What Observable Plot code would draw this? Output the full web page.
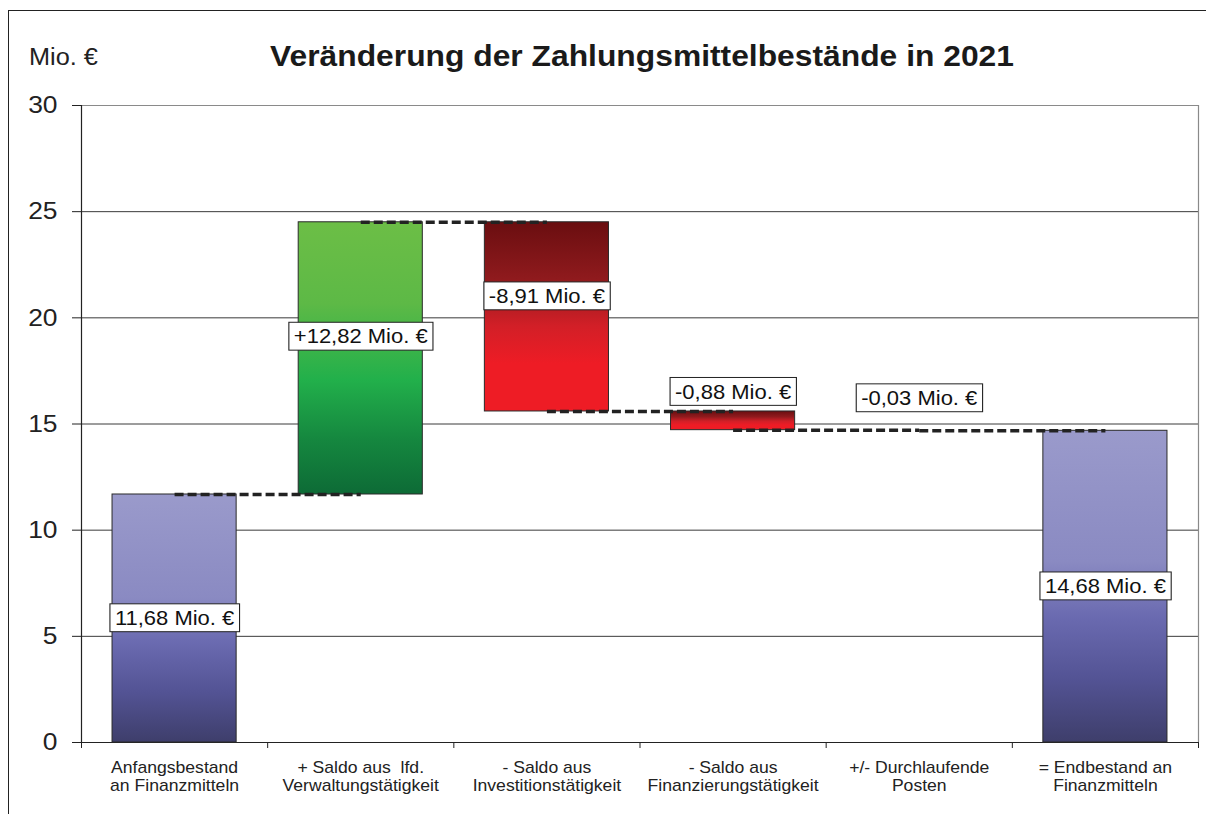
<!DOCTYPE html>
<html>
<head>
<meta charset="utf-8">
<script src="https://cdn.jsdelivr.net/npm/d3@7"></script>
<script src="https://cdn.jsdelivr.net/npm/@observablehq/plot@0.6"></script>
<style>
  html, body { margin: 0; padding: 0; background: #fff; overflow: hidden; }
  #wrap { position: relative; width: 1206px; height: 814px; overflow: hidden; font-family: "Liberation Sans", Arial, sans-serif; color: #222; }
  #frame { position: absolute; left: 8px; top: 10px; width: 1220px; height: 900px; border: 1.5px solid #222; box-sizing: border-box; }
  #unit { position: absolute; left: 29px; top: 42px; font-size: 23px; line-height: 30px; white-space: nowrap; transform-origin: left center; transform: scaleX(1.1); }
  #title { position: absolute; left: 642px; top: 41px; transform: translateX(-50%) scaleX(1.06); font-size: 30px; font-weight: bold; line-height: 30px; white-space: nowrap; color: #1a1a1a; }
  #chart { position: absolute; left: 0; top: 0; }
</style>
</head>
<body>
<div id="wrap">
  <div id="frame"></div>
  <div id="unit">Mio. €</div>
  <div id="title">Veränderung der Zahlungsmittelbestände in 2021</div>
  <div id="chart"></div>
</div>
<script>
// ---- data ----
const categories = [
  "Anfangsbestand\nan Finanzmitteln",
  "+ Saldo aus  lfd.\nVerwaltungstätigkeit",
  "- Saldo aus\nInvestitionstätigkeit",
  "- Saldo aus\nFinanzierungstätigkeit",
  "+/- Durchlaufende\nPosten",
  "= Endbestand an\nFinanzmitteln"
];
const changes = [11.68, 12.82, -8.91, -0.88, -0.03, 14.68];
const kinds = ["total", "up", "down", "down", "down", "total"];
const valueLabels = ["11,68 Mio. €", "+12,82 Mio. €", "-8,91 Mio. €", "-0,88 Mio. €", "-0,03 Mio. €", "14,68 Mio. €"];
const labelLevels = [5.84, 19.1, 21.0, 16.5, 16.2, 7.34];
const yTicks = [0, 5, 10, 15, 20, 25, 30];

// ---- derived table ----
let running = 0;
const rows = categories.map((c, i) => {
  let lo, hi;
  if (kinds[i] === "total") {
    lo = 0; hi = changes[i]; running = changes[i];
  } else {
    const start = running;
    running = start + changes[i];
    lo = Math.min(start, running); hi = Math.max(start, running);
  }
  return { i, category: c, lo, hi, level: running, kind: kinds[i], label: valueLabels[i], labelY: labelLevels[i] };
});
const connectors = rows.slice(0, -1).map(r => ({ from: r.i + 0.5, to: r.i + 1.5, level: r.level }));
const slots = d3.range(categories.length + 1);

const barOpts = {
  x1: d => d.i + 1 / 6,
  x2: d => d.i + 5 / 6,
  y1: "lo",
  y2: "hi",
  stroke: "#2a2a2a",
  strokeWidth: 1
};

const plot = Plot.plot({
  width: 1206,
  height: 814,
  marginLeft: 81,
  marginRight: 8,
  marginTop: 105,
  marginBottom: 72,
  x: { domain: [0, categories.length], axis: null },
  y: { domain: [0, 30], axis: null },
  style: { fontFamily: "'Liberation Sans', Arial, sans-serif", background: "transparent", color: "#222" },
  marks: [
    Plot.ruleY(yTicks.filter(t => t > 0 && t < 30), { stroke: "#3a3a3a", strokeWidth: 1, strokeOpacity: 1 }),
    Plot.ruleY([30], { stroke: "#8a8a8a", strokeWidth: 1.2 }),
    Plot.ruleX([categories.length], { stroke: "#8a8a8a", strokeWidth: 1.2 }),
    Plot.axisY({ ticks: yTicks, tickSize: 9, tickPadding: 15, fontSize: 24, tickFormat: d => String(d), color: "#222" }),
    Plot.axisX({ ticks: slots, tickSize: 6, tickFormat: () => "", color: "#222" }),
    Plot.ruleX([0], { stroke: "#222", strokeWidth: 1.2 }),
    Plot.ruleY([0], { stroke: "#222", strokeWidth: 1.2 }),
    Plot.rectY(rows.filter(d => d.kind === "total"), { ...barOpts, fill: "url(#g-total)" }),
    Plot.rectY(rows.filter(d => d.kind === "up"), { ...barOpts, fill: "url(#g-up)" }),
    Plot.rectY(rows.filter(d => d.kind === "down" && d.hi - d.lo > 0.1), { ...barOpts, fill: "url(#g-down)" }),
    Plot.link(connectors, { x1: "from", x2: "to", y1: "level", y2: "level", stroke: "#222", strokeWidth: 3.5, strokeDasharray: "9,4" }),
    Plot.text(rows, {
      x: d => d.i + 0.5, y: 0, text: "category", dy: 17, lineAnchor: "top",
      fontSize: 16, lineHeight: 1.15, fill: "#222"
    }),
    Plot.text(rows, {
      x: d => d.i + 0.5, y: "labelY", text: "label", fontSize: 20, fill: "#111"
    })
  ]
});

document.getElementById("chart").appendChild(plot);

// gradients
const svg = d3.select(plot);
const defs = svg.insert("defs", ":first-child");
function grad(id, stops) {
  const g = defs.append("linearGradient").attr("id", id).attr("x1", 0).attr("y1", 0).attr("x2", 0).attr("y2", 1);
  stops.forEach(([o, c]) => g.append("stop").attr("offset", o).attr("stop-color", c));
}
grad("g-total", [[0, "#9A9ACB"], [0.42, "#8A8AC2"], [0.6, "#6A6AB0"], [0.8, "#535394"], [1, "#3E3E6B"]]);
grad("g-up", [[0, "#6CBE46"], [0.3, "#5DB946"], [0.58, "#22B04B"], [0.8, "#15873F"], [1, "#0D6B36"]]);
grad("g-down", [[0, "#6A0E10"], [0.3, "#8F1A1D"], [0.55, "#D21F27"], [0.75, "#EE1C25"], [1, "#EE1C25"]]);

// slight horizontal stretch of all chart text (the original renders wide Arial)
svg.selectAll("text").each(function () {
  const tr = this.getAttribute("transform") || "";
  this.setAttribute("transform", (tr + " scale(1.1,1)").trim());
});

// white label boxes behind the value labels
svg.selectAll("text").filter(function () { return valueLabels.includes(this.textContent); }).each(function () {
  const b = this.getBBox();
  const node = this;
  d3.select(node.parentNode).insert("rect", () => node)
    .attr("x", b.x - 4.5).attr("y", b.y - 3)
    .attr("width", b.width + 9).attr("height", b.height + 6)
    .attr("transform", node.getAttribute("transform"))
    .attr("fill", "#fff").attr("stroke", "#222").attr("stroke-width", 1);
});
</script>
</body>
</html>
